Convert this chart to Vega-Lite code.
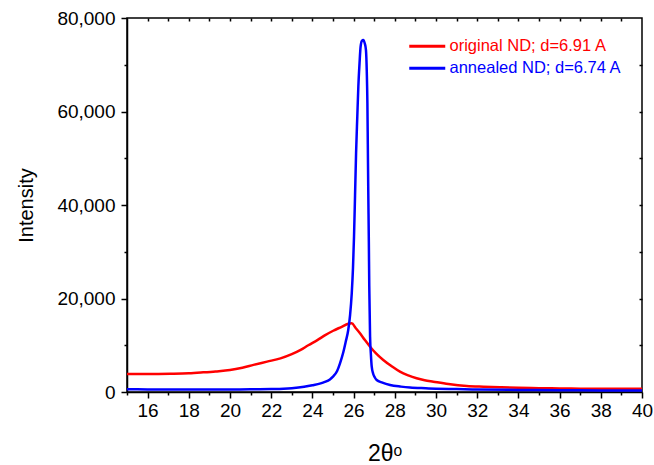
{
  "$schema": "https://vega.github.io/schema/vega-lite/v6.json",
  "width": 515,
  "height": 374,
  "autosize": {"type": "none"},
  "padding": {"left": 127, "top": 18, "right": 12, "bottom": 73},
  "background": "white",
  "config": {
    "view": {"stroke": "black", "strokeWidth": 1.5},
    "font": "Liberation Sans",
    "axis": {"domainColor": "black", "tickColor": "black", "labelColor": "black", "titleColor": "black", "grid": false, "domainWidth": 1.5, "tickWidth": 1.5, "labelFont": "Liberation Sans", "titleFont": "Liberation Sans", "titleFontWeight": "normal"}
  },
  "datasets": {
    "xrd": [
      {"angle": 15, "intensity": 3850, "series": "original ND; d=6.91 A"},
      {"angle": 16, "intensity": 3850, "series": "original ND; d=6.91 A"},
      {"angle": 17.1, "intensity": 3900, "series": "original ND; d=6.91 A"},
      {"angle": 18, "intensity": 4000, "series": "original ND; d=6.91 A"},
      {"angle": 18.7, "intensity": 4200, "series": "original ND; d=6.91 A"},
      {"angle": 19.3, "intensity": 4400, "series": "original ND; d=6.91 A"},
      {"angle": 20.0, "intensity": 4700, "series": "original ND; d=6.91 A"},
      {"angle": 20.6, "intensity": 5200, "series": "original ND; d=6.91 A"},
      {"angle": 21.14, "intensity": 5800, "series": "original ND; d=6.91 A"},
      {"angle": 21.8, "intensity": 6500, "series": "original ND; d=6.91 A"},
      {"angle": 22.45, "intensity": 7200, "series": "original ND; d=6.91 A"},
      {"angle": 23.0, "intensity": 8100, "series": "original ND; d=6.91 A"},
      {"angle": 23.43, "intensity": 9000, "series": "original ND; d=6.91 A"},
      {"angle": 23.8, "intensity": 10000, "series": "original ND; d=6.91 A"},
      {"angle": 24.24, "intensity": 11100, "series": "original ND; d=6.91 A"},
      {"angle": 24.6, "intensity": 12100, "series": "original ND; d=6.91 A"},
      {"angle": 25.01, "intensity": 13100, "series": "original ND; d=6.91 A"},
      {"angle": 25.4, "intensity": 13900, "series": "original ND; d=6.91 A"},
      {"angle": 25.74, "intensity": 14600, "series": "original ND; d=6.91 A"},
      {"angle": 25.91, "intensity": 14700, "series": "original ND; d=6.91 A"},
      {"angle": 26.1, "intensity": 13700, "series": "original ND; d=6.91 A"},
      {"angle": 26.31, "intensity": 12560, "series": "original ND; d=6.91 A"},
      {"angle": 26.55, "intensity": 11100, "series": "original ND; d=6.91 A"},
      {"angle": 26.8, "intensity": 9690, "series": "original ND; d=6.91 A"},
      {"angle": 27.1, "intensity": 8200, "series": "original ND; d=6.91 A"},
      {"angle": 27.44, "intensity": 6850, "series": "original ND; d=6.91 A"},
      {"angle": 27.85, "intensity": 5500, "series": "original ND; d=6.91 A"},
      {"angle": 28.25, "intensity": 4340, "series": "original ND; d=6.91 A"},
      {"angle": 28.65, "intensity": 3550, "series": "original ND; d=6.91 A"},
      {"angle": 29.06, "intensity": 2930, "series": "original ND; d=6.91 A"},
      {"angle": 29.45, "intensity": 2500, "series": "original ND; d=6.91 A"},
      {"angle": 29.87, "intensity": 2200, "series": "original ND; d=6.91 A"},
      {"angle": 30.6, "intensity": 1700, "series": "original ND; d=6.91 A"},
      {"angle": 31.49, "intensity": 1280, "series": "original ND; d=6.91 A"},
      {"angle": 32.3, "intensity": 1120, "series": "original ND; d=6.91 A"},
      {"angle": 33.11, "intensity": 1000, "series": "original ND; d=6.91 A"},
      {"angle": 34, "intensity": 900, "series": "original ND; d=6.91 A"},
      {"angle": 35, "intensity": 820, "series": "original ND; d=6.91 A"},
      {"angle": 36, "intensity": 760, "series": "original ND; d=6.91 A"},
      {"angle": 37, "intensity": 720, "series": "original ND; d=6.91 A"},
      {"angle": 38, "intensity": 700, "series": "original ND; d=6.91 A"},
      {"angle": 39, "intensity": 680, "series": "original ND; d=6.91 A"},
      {"angle": 40, "intensity": 680, "series": "original ND; d=6.91 A"},
      {"angle": 15, "intensity": 570, "series": "annealed ND; d=6.74 A"},
      {"angle": 16, "intensity": 560, "series": "annealed ND; d=6.74 A"},
      {"angle": 17, "intensity": 550, "series": "annealed ND; d=6.74 A"},
      {"angle": 18, "intensity": 540, "series": "annealed ND; d=6.74 A"},
      {"angle": 19, "intensity": 540, "series": "annealed ND; d=6.74 A"},
      {"angle": 20, "intensity": 550, "series": "annealed ND; d=6.74 A"},
      {"angle": 21, "intensity": 570, "series": "annealed ND; d=6.74 A"},
      {"angle": 22, "intensity": 620, "series": "annealed ND; d=6.74 A"},
      {"angle": 22.6, "intensity": 700, "series": "annealed ND; d=6.74 A"},
      {"angle": 23.0, "intensity": 820, "series": "annealed ND; d=6.74 A"},
      {"angle": 23.6, "intensity": 1130, "series": "annealed ND; d=6.74 A"},
      {"angle": 24.0, "intensity": 1450, "series": "annealed ND; d=6.74 A"},
      {"angle": 24.4, "intensity": 1850, "series": "annealed ND; d=6.74 A"},
      {"angle": 24.6, "intensity": 2150, "series": "annealed ND; d=6.74 A"},
      {"angle": 24.85, "intensity": 2700, "series": "annealed ND; d=6.74 A"},
      {"angle": 25.0, "intensity": 3300, "series": "annealed ND; d=6.74 A"},
      {"angle": 25.2, "intensity": 4500, "series": "annealed ND; d=6.74 A"},
      {"angle": 25.34, "intensity": 6140, "series": "annealed ND; d=6.74 A"},
      {"angle": 25.5, "intensity": 8500, "series": "annealed ND; d=6.74 A"},
      {"angle": 25.62, "intensity": 10800, "series": "annealed ND; d=6.74 A"},
      {"angle": 25.74, "intensity": 13260, "series": "annealed ND; d=6.74 A"},
      {"angle": 25.83, "intensity": 16500, "series": "annealed ND; d=6.74 A"},
      {"angle": 25.91, "intensity": 21100, "series": "annealed ND; d=6.74 A"},
      {"angle": 25.97, "intensity": 26500, "series": "annealed ND; d=6.74 A"},
      {"angle": 26.02, "intensity": 33200, "series": "annealed ND; d=6.74 A"},
      {"angle": 26.07, "intensity": 42000, "series": "annealed ND; d=6.74 A"},
      {"angle": 26.12, "intensity": 51060, "series": "annealed ND; d=6.74 A"},
      {"angle": 26.18, "intensity": 59000, "series": "annealed ND; d=6.74 A"},
      {"angle": 26.23, "intensity": 65300, "series": "annealed ND; d=6.74 A"},
      {"angle": 26.29, "intensity": 70500, "series": "annealed ND; d=6.74 A"},
      {"angle": 26.34, "intensity": 73860, "series": "annealed ND; d=6.74 A"},
      {"angle": 26.4, "intensity": 75100, "series": "annealed ND; d=6.74 A"},
      {"angle": 26.47, "intensity": 75300, "series": "annealed ND; d=6.74 A"},
      {"angle": 26.54, "intensity": 74600, "series": "annealed ND; d=6.74 A"},
      {"angle": 26.6, "intensity": 73150, "series": "annealed ND; d=6.74 A"},
      {"angle": 26.64, "intensity": 68500, "series": "annealed ND; d=6.74 A"},
      {"angle": 26.67, "intensity": 61750, "series": "annealed ND; d=6.74 A"},
      {"angle": 26.69, "intensity": 53000, "series": "annealed ND; d=6.74 A"},
      {"angle": 26.71, "intensity": 43900, "series": "annealed ND; d=6.74 A"},
      {"angle": 26.74, "intensity": 32000, "series": "annealed ND; d=6.74 A"},
      {"angle": 26.76, "intensity": 22740, "series": "annealed ND; d=6.74 A"},
      {"angle": 26.8, "intensity": 11830, "series": "annealed ND; d=6.74 A"},
      {"angle": 26.84, "intensity": 8000, "series": "annealed ND; d=6.74 A"},
      {"angle": 26.88, "intensity": 5410, "series": "annealed ND; d=6.74 A"},
      {"angle": 26.95, "intensity": 3900, "series": "annealed ND; d=6.74 A"},
      {"angle": 27.03, "intensity": 3100, "series": "annealed ND; d=6.74 A"},
      {"angle": 27.12, "intensity": 2570, "series": "annealed ND; d=6.74 A"},
      {"angle": 27.4, "intensity": 2000, "series": "annealed ND; d=6.74 A"},
      {"angle": 27.77, "intensity": 1500, "series": "annealed ND; d=6.74 A"},
      {"angle": 28.3, "intensity": 1150, "series": "annealed ND; d=6.74 A"},
      {"angle": 28.74, "intensity": 950, "series": "annealed ND; d=6.74 A"},
      {"angle": 29.5, "intensity": 800, "series": "annealed ND; d=6.74 A"},
      {"angle": 30, "intensity": 720, "series": "annealed ND; d=6.74 A"},
      {"angle": 31, "intensity": 620, "series": "annealed ND; d=6.74 A"},
      {"angle": 32, "intensity": 530, "series": "annealed ND; d=6.74 A"},
      {"angle": 34, "intensity": 440, "series": "annealed ND; d=6.74 A"},
      {"angle": 36, "intensity": 380, "series": "annealed ND; d=6.74 A"},
      {"angle": 38, "intensity": 340, "series": "annealed ND; d=6.74 A"},
      {"angle": 40, "intensity": 300, "series": "annealed ND; d=6.74 A"}
    ]
  },
  "data": {"name": "xrd"},
  "layer": [
    {
      "mark": {"type": "line", "strokeWidth": 2.5, "interpolate": "monotone", "clip": true},
      "encoding": {
        "x": {
          "field": "angle", "type": "quantitative",
          "scale": {"domain": [15, 40], "nice": false, "zero": false},
          "axis": {"orient": "bottom", "values": [16, 18, 20, 22, 24, 26, 28, 30, 32, 34, 36, 38, 40], "format": "d", "tickSize": 6, "labelFontSize": 19, "labelPadding": 3, "labelFlush": false, "title": "2θᵒ", "titleFontSize": 23, "titlePadding": 22}
        },
        "y": {
          "field": "intensity", "type": "quantitative",
          "scale": {"domain": [0, 80000], "nice": false},
          "axis": {"orient": "left", "values": [0, 20000, 40000, 60000, 80000], "format": ",.0f", "tickSize": 6, "labelFontSize": 19, "labelPadding": 6, "title": "Intensity", "titleFontSize": 20, "titlePadding": 20}
        },
        "color": {
          "field": "series", "type": "nominal",
          "scale": {"domain": ["original ND; d=6.91 A", "annealed ND; d=6.74 A"], "range": ["#ff0000", "#0000ff"]},
          "legend": {
            "orient": "none", "legendX": 292, "legendY": 20, "title": null, "padding": 0,
            "symbolType": "M-3,0H3", "symbolSize": 144, "symbolStrokeWidth": 3,
            "labelFontSize": 16.5, "labelOffset": 14, "rowPadding": 5, "labelFont": "Liberation Sans", "labelLimit": 400,
            "encode": {"labels": {"update": {"fill": {"signal": "datum.value == 'original ND; d=6.91 A' ? '#ff0000' : '#0000ff'"}}}}
          }
        }
      }
    },
    {
      "mark": {"type": "line", "opacity": 0},
      "encoding": {
        "x": {"field": "angle", "type": "quantitative", "scale": {"domain": [15, 40], "nice": false, "zero": false},
          "axis": {"orient": "bottom", "values": [15, 17, 19, 21, 23, 25, 27, 29, 31, 33, 35, 37, 39], "tickSize": 3, "labels": false, "domain": false, "title": null}},
        "y": {"field": "intensity", "type": "quantitative", "scale": {"domain": [0, 80000], "nice": false},
          "axis": {"orient": "left", "values": [10000, 30000, 50000, 70000], "tickSize": 3, "labels": false, "domain": false, "title": null}}
      }
    },
    {
      "mark": {"type": "line", "opacity": 0},
      "encoding": {
        "x": {"field": "angle", "type": "quantitative", "scale": {"domain": [15, 40], "nice": false, "zero": false},
          "axis": {"orient": "top", "values": [16, 17, 18, 19, 20, 21, 22, 23, 24, 25, 26, 27, 28, 29, 30, 31, 32, 33, 34, 35, 36, 37, 38, 39], "tickSize": -3, "labels": false, "domain": false, "title": null}},
        "y": {"field": "intensity", "type": "quantitative", "scale": {"domain": [0, 80000], "nice": false},
          "axis": {"orient": "right", "values": [10000, 20000, 30000, 40000, 50000, 60000, 70000], "tickSize": -3, "labels": false, "domain": false, "title": null}}
      }
    }
  ],
  "resolve": {"axis": {"x": "independent", "y": "independent"}}
}
